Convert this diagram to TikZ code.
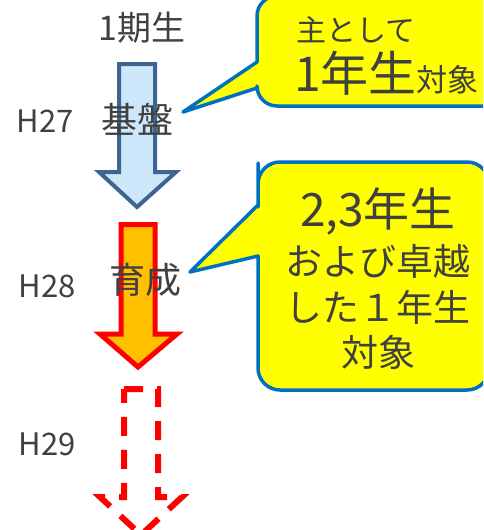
\documentclass[tikz,border=0pt]{standalone}
\usepackage{fontspec}
\setmainfont{Noto Sans CJK JP}
\definecolor{txt}{HTML}{404040}
\definecolor{cborder}{HTML}{0070C0}
\definecolor{cfill}{HTML}{FFFF00}
\definecolor{bfill}{HTML}{CDE8FB}
\definecolor{bdraw}{HTML}{3E6491}
\definecolor{ofill}{HTML}{FFC000}
\definecolor{rdraw}{HTML}{FF0000}
\tikzset{
  lbl/.style={text=txt, inner sep=0pt, font=\fontsize{#1}{#1}\selectfont},
  lbl/.default=30,
  callout/.style={fill=cfill, draw=cborder, line width=3.5pt, line join=round},
  bluearrow/.style={fill=bfill, draw=bdraw, line width=4pt, line join=miter},
  orangearrow/.style={fill=ofill, draw=rdraw, line width=5pt, line join=miter},
  dasharrow/.style={draw=rdraw, line width=6pt, dash pattern=on 19pt off 14pt, line join=miter},
}
\begin{document}
\begin{tikzpicture}[x=1pt,y=-1pt]
\useasboundingbox (0,0) rectangle (483,530);
\clip (0,0) rectangle (483,530);

% callout 1
\draw[callout] (257,62) -- (183,112) -- (257,88) -- (257,90)
  [rounded corners=20pt] -- (257,106) -- (520,106) -- (520,-4) -- (257,-4) -- (257,40)
  [sharp corners] -- (257,50) -- cycle;
% callout 2
\draw[callout] (258,205) -- (190,272) -- (258,256) -- (258,258)
  [rounded corners=22pt] -- (258,390) -- (489,390) -- (489,162) -- (258,162) -- (258,185)
  [sharp corners] -- (258,195) -- cycle;

% arrows
\draw[bluearrow] (119,64) -- (155,64) -- (155,172) -- (176,172) -- (137,207) -- (99,172) -- (119,172) -- cycle;
\draw[orangearrow] (121,224.5) -- (155,224.5) -- (155,334) -- (177,334) -- (138,367) -- (100,334) -- (121,334) -- cycle;
\draw[dasharrow] (124,389) -- (158,389) -- (158,497) -- (182,497) -- (141,535) -- (100,497) -- (124,497) -- cycle;

% left labels
\node[lbl=34] (gen) at (142,28) {1期生};
\node[lbl=31] (h27) at (45,121) {H27};
\node[lbl=31] (h28) at (47,286) {H28};
\node[lbl=31] (h29) at (47,444) {H29};
\node[lbl=36] (kiban) at (137,119) {基盤};
\node[lbl=36] (ikusei) at (145,280) {育成};

% callout 1 text
\node[lbl=30] (c1a) at (356,30) {主として};
\node[lbl=48, anchor=base west] (c1b) at (294,91) {1年生{\fontsize{31}{31}\selectfont 対象}};

% callout 2 text
\node[lbl=46] (c2a) at (378,211) {2,3年生};
\node[lbl=37] (c2b) at (378,261) {および卓越};
\node[lbl=37] (c2c) at (378,307) {した１年生};
\node[lbl=37] (c2d) at (378,352) {対象};
\end{tikzpicture}
\end{document}
